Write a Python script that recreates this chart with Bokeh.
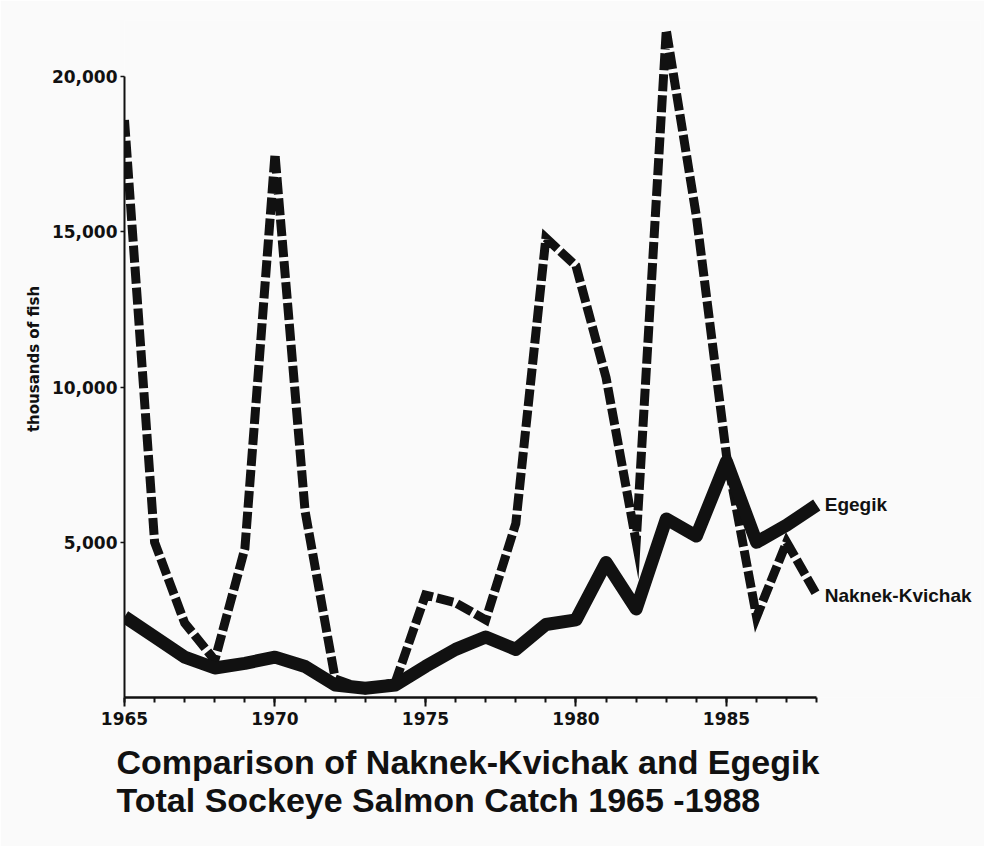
from bokeh.plotting import figure
from bokeh.models import (Range1d, FixedTicker, Title, NumeralTickFormatter,
                          ColumnDataSource, BoxAnnotation)
from bokeh.core.properties import value
from bokeh.embed import file_html
from bokeh.resources import INLINE

# ---- data (thousands of fish) ----
years = list(range(1965, 1989))
egegik = [2600, 1950, 1300, 950, 1100, 1300, 1000, 400, 300, 400,
          1000, 1550, 1950, 1550, 2350, 2500, 4350, 2850, 5750, 5200,
          7600, 5000, 5550, 6200]
naknek = [18600, 5000, 2400, 1200, 4800, 17500, 6000, 600, 250, 500,
          3300, 3050, 2500, 5600, 14800, 13900, 10300, 5000, 21500, 15500,
          7800, 2600, 5000, 3300]
x_ticks = [1965, 1970, 1975, 1980, 1985]
y_ticks = [5000, 10000, 15000, 20000]
series_names = ["Egegik", "Naknek-Kvichak"]
title_lines = ["Comparison of Naknek-Kvichak and Egegik",
               "Total Sockeye Salmon Catch  1965 -1988"]
y_label = "thousands of fish"

BG = "#fafafa"
INK = "#111111"

p = figure(width=984, height=846, output_backend="svg", toolbar_location=None,
           x_range=Range1d(1965, 1993.44), y_range=Range1d(0, 21804),
           min_border_left=124, min_border_right=4, min_border_top=20,
           min_border_bottom=149, background_fill_color=BG, border_fill_color=BG,
           outline_line_color=None)
p.grid.visible = False

# page frame rules of the printed page
p.add_layout(BoxAnnotation(left=0, right=984, top=9, bottom=12,
                           left_units="canvas", right_units="canvas",
                           top_units="canvas", bottom_units="canvas",
                           fill_color=INK, fill_alpha=1, line_color=None,
                           level="overlay"))
p.add_layout(BoxAnnotation(left=10, right=12, top=12, bottom=846,
                           left_units="canvas", right_units="canvas",
                           top_units="canvas", bottom_units="canvas",
                           fill_color=INK, fill_alpha=1, line_color=None,
                           level="overlay"))

src = ColumnDataSource(dict(year=years, egegik=egegik, naknek=naknek))

p.line("year", "naknek", source=src, line_color=INK, line_width=9,
       line_dash="17 4", line_join="miter", line_cap="butt")
p.line("year", "egegik", source=src, line_color=INK, line_width=13,
       line_join="round", line_cap="butt")

# end labels
lab = ColumnDataSource(dict(x=[years[-1], years[-1]], y=[egegik[-1], naknek[-1]],
                            t=series_names))
p.text("x", "y", text="t", source=lab, x_offset=8, text_baseline="middle",
       text_align="left", text_font=value("Liberation Sans"), text_font_style="bold",
       text_font_size="19px", text_color=INK)

# x axis
xa = p.xaxis[0]
xa.ticker = FixedTicker(ticks=x_ticks, minor_ticks=years)
xa.bounds = (1965, 1988)
xa.axis_line_color = INK
xa.axis_line_width = 2.5
xa.major_tick_in = 0
xa.major_tick_out = 9
xa.major_tick_line_width = 2
xa.major_tick_line_color = INK
xa.minor_tick_in = 0
xa.minor_tick_out = 5
xa.minor_tick_line_width = 2
xa.minor_tick_line_color = INK
xa.major_label_standoff = 5
xa.major_label_text_font = "DejaVu Sans"
xa.major_label_text_font_style = "bold"
xa.major_label_text_font_size = "17px"
xa.major_label_text_color = INK

# y axis
ya = p.yaxis[0]
ya.ticker = FixedTicker(ticks=y_ticks, minor_ticks=[])
ya.bounds = (0, 20000)
ya.formatter = NumeralTickFormatter(format="0,0")
ya.axis_line_color = INK
ya.axis_line_width = 2
ya.major_tick_in = 0
ya.major_tick_out = 4
ya.major_tick_line_width = 1.5
ya.major_tick_line_color = INK
ya.minor_tick_line_color = None
ya.major_label_standoff = 3
ya.major_label_text_font = "DejaVu Sans"
ya.major_label_text_font_style = "bold"
ya.major_label_text_font_size = "17px"
ya.major_label_text_color = INK
ya.axis_label = y_label
ya.axis_label_text_font = "DejaVu Sans"
ya.axis_label_text_font_style = "bold"
ya.axis_label_text_font_size = "15px"
ya.axis_label_text_color = INK
ya.axis_label_standoff = 6

# two-line title below the plot
t = Title(text="\n".join(title_lines), align="left", offset=-8,
          text_font="Liberation Sans", text_font_style="bold",
          text_font_size="34px", text_color=INK, text_line_height=1.0,
          standoff=27)
p.add_layout(t, "below")

open("out.html", "w").write(file_html(p, INLINE))
